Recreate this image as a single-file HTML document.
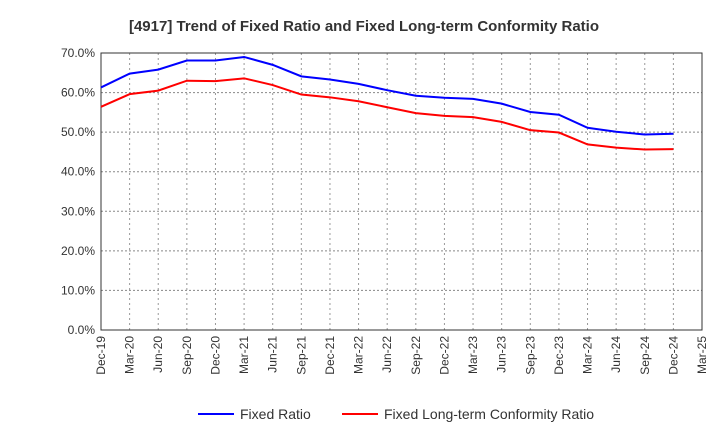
<!DOCTYPE html>
<html><head><meta charset="utf-8"><style>body{margin:0;background:#fff}svg{font-family:"Liberation Sans",sans-serif}</style></head>
<body>
<svg id="c" width="720" height="440" xmlns="http://www.w3.org/2000/svg">
<text x="364" y="31" text-anchor="middle" font-size="15" font-weight="bold" fill="#333">[4917]  Trend of Fixed Ratio and Fixed Long-term Conformity Ratio</text>
</svg>
<script>
const categories=["Dec-19","Mar-20","Jun-20","Sep-20","Dec-20","Mar-21","Jun-21","Sep-21","Dec-21","Mar-22","Jun-22","Sep-22","Dec-22","Mar-23","Jun-23","Sep-23","Dec-23","Mar-24","Jun-24","Sep-24","Dec-24","Mar-25"];
const fixedRatio=[61.3,64.8,65.8,68.1,68.1,69.0,67.0,64.1,63.3,62.2,60.6,59.2,58.7,58.4,57.2,55.1,54.4,51.1,50.1,49.4,49.6];
const conformityRatio=[56.4,59.6,60.5,63.0,62.9,63.6,61.9,59.5,58.8,57.8,56.3,54.8,54.1,53.8,52.6,50.5,49.9,46.9,46.1,45.6,45.7];
const yTicks=[0,10,20,30,40,50,60,70];
const svg=document.getElementById('c');const NS="http://www.w3.org/2000/svg";
const L=101,R=702,T=53,B=330;
const x=i=>L+i*(R-L)/(categories.length-1);
const y=v=>B-(v/70)*(B-T);
function mk(t,a,p){const e=document.createElementNS(NS,t);for(const k in a)e.setAttribute(k,a[k]);(p||svg).appendChild(e);return e;}
categories.forEach((c,i)=>{
 const g=mk('line',{x1:x(i),x2:x(i),y1:T,y2:B,stroke:'#999','stroke-dasharray':'2,3'});
 
 
 const t=mk('text',{x:0,y:0,'font-size':12,fill:'#333','text-anchor':'end',transform:`translate(${x(i)+4},${B+6}) rotate(-90)`});
 t.textContent=c;
 
 
});
yTicks.forEach(v=>{
 const g=mk('line',{x1:L,x2:R,y1:y(v),y2:y(v),stroke:'#888','stroke-dasharray':'2,2'});
 
 
 const t=mk('text',{x:L-6,y:y(v)+4,'font-size':12,fill:'#333','text-anchor':'end'});
 t.textContent=v.toFixed(1)+'%';
 
 
});
const fr=mk('rect',{x:L,y:T,width:R-L,height:B-T,fill:'none',stroke:'#333'});


function line(d,col,name){const p=mk('polyline',{points:d.map((v,i)=>x(i)+','+y(v)).join(' '),fill:'none',stroke:col,'stroke-width':2});
 
 }
line(conformityRatio,'#f00','fixed-long-term-conformity-ratio-line');
line(fixedRatio,'#00f','fixed-ratio-line');
function leg(x0,col,txt,name){const g=mk('g',{});
 
 
 mk('line',{x1:x0,x2:x0+36,y1:414,y2:414,stroke:col,'stroke-width':2},g);
 const t=mk('text',{x:x0+42,y:419,'font-size':14,fill:'#333'},g);t.textContent=txt;}
leg(198,'#00f','Fixed Ratio','legend-fixed-ratio');
leg(342,'#f00','Fixed Long-term Conformity Ratio','legend-conformity-ratio');
</script>
</body></html>
